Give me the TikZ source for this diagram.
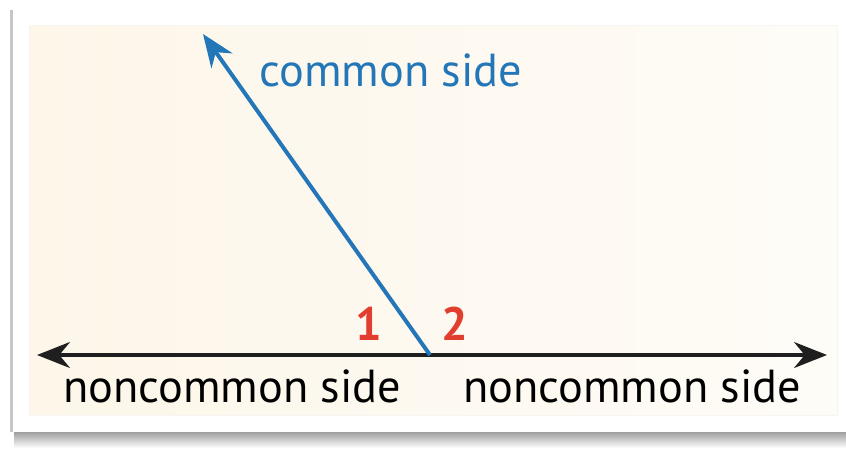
\documentclass[tikz,border=0pt]{standalone}
\usepackage{fontspec}
\setmainfont{PT Sans}
\usepackage{xcolor}
\usetikzlibrary{positioning, arrows.meta}
\definecolor{sideblue}{RGB}{35,118,184}
\definecolor{anglered}{RGB}{226,62,48}
\definecolor{creamlo}{RGB}{253,246,233}
\definecolor{creamhi}{RGB}{254,252,247}

\begin{document}
\begin{tikzpicture}[x=0.03cm, y=-0.03cm,
  lbl/.style={font=\fontsize{39.5}{42}\selectfont, anchor=base, inner sep=0pt},
  num/.style={lbl, font=\fontsize{40}{42}\selectfont\bfseries, text=anglered},
  ray/.style={line width=4pt, -{Stealth[length=28pt, width=22pt, inset=9pt]}},
  rayboth/.style={ray, {Stealth[length=28pt, width=22pt, inset=9pt]}-{Stealth[length=28pt, width=22pt, inset=9pt]}},
]
\useasboundingbox (0,0) rectangle (846,448);

% Card with its shadow
\shade[top color=gray!85, bottom color=white] (14,430) rectangle (846,448);
\fill[gray!45] (10,10) rectangle (14,432);
\fill[white] (13,7) rectangle (846,432);

% Cream panel
\shade[left color=creamlo, right color=creamhi, draw=creamlo!80!gray!30]
  (29,25) rectangle (837,415);

% Points
\coordinate (vtx)  at (430,355);
\coordinate (ltip) at (37,355);
\coordinate (rtip) at (827,355);
\coordinate (ctip) at (203,34);

% Sides
\draw[rayboth, black!88] (ltip) -- (rtip);
\draw[ray, sideblue, line width=3.4pt] (vtx) -- (ctip);

% Labels
\node[lbl, text=sideblue] (common) at (391,86) {common side};
\node[lbl] (nleft)  at (232,402) {noncommon side};
\node[lbl] (nright) at (632,402) {noncommon side};
\node[num] (one) at (369,340) {1};
\node[num] (two) at (455,340) {2};
\end{tikzpicture}
\end{document}
